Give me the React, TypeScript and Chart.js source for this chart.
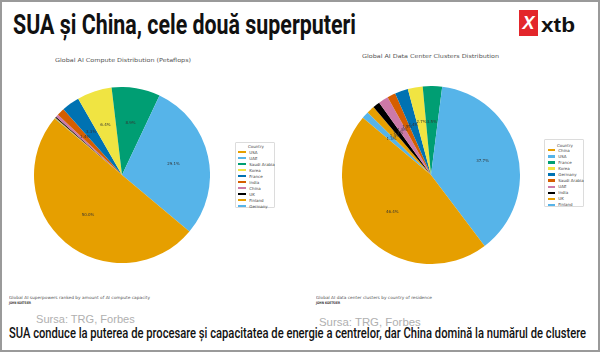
import React, { useEffect, useRef } from "react";
import { Chart, registerables } from "chart.js";
Chart.register(...registerables);

const palette = ["#E69F00", "#56B4E9", "#009E73", "#F0E442", "#0072B2", "#D55E00", "#CC79A7", "#000000", "#E69F00", "#56B4E9"];

const computeCountries = ["USA", "UAE", "Saudi Arabia", "Korea", "France", "India", "China", "UK", "Finland", "Germany"];
const computeShares = [50.0, 29.1, 8.9, 6.4, 3.3, 1.4, 0.5, 0.2, 0.1, 0.1];

const clusterCountries = ["China", "USA", "France", "Korea", "Germany", "Saudi Arabia", "UAE", "India", "UK", "Finland"];
const clusterShares = [46.4, 37.7, 3.5, 2.7, 2.4, 1.5, 1.8, 1.3, 1.4, 1.3];

const measureCtx = typeof document !== "undefined" ? document.createElement("canvas").getContext("2d") : null;

function Txt(props: { text: string; x: number; base: number; size: number; family: string; weight?: number | string; color: string; width?: number }) {
  const { text, x, base, size, family, weight = 400, color, width } = props;
  const font = `${weight} ${size}px ${family}`;
  let scale = 1;
  if (measureCtx && width) {
    measureCtx.font = font;
    const natural = measureCtx.measureText(text).width;
    scale = width / natural;
  }
  return (
    <div
      style={{
        position: "absolute",
        left: x,
        top: base - 0.845 * size,
        font,
        lineHeight: `${size}px`,
        color,
        whiteSpace: "nowrap",
        transform: `scaleX(${scale})`,
        transformOrigin: "0 0",
      }}
    >
      {text}
    </div>
  );
}

const pctPlugin = {
  id: "pctLabels",
  afterDatasetsDraw(chart: any) {
    const ctx = chart.ctx;
    const meta = chart.getDatasetMeta(0);
    const data = chart.data.datasets[0].data as number[];
    ctx.save();
    ctx.font = "4px 'DejaVu Sans'";
    ctx.fillStyle = "#333333";
    ctx.textAlign = "center";
    ctx.textBaseline = "middle";
    meta.data.forEach((arc: any, i: number) => {
      const v = data[i];
      if (v < 1) return;
      const p = arc.getProps(["x", "y", "startAngle", "endAngle", "outerRadius"], true);
      const mid = (p.startAngle + p.endAngle) / 2;
      const r = p.outerRadius * 0.6;
      ctx.fillText(v.toFixed(1) + "%", p.x + Math.cos(mid) * r, p.y + Math.sin(mid) * r);
    });
    ctx.restore();
  },
};

function Pie(props: { labels: string[]; values: number[]; left: number; top: number; size: number }) {
  const ref = useRef<HTMLCanvasElement>(null);
  useEffect(() => {
    if (!ref.current) return;
    const labels = [...props.labels].reverse();
    const values = [...props.values].reverse();
    const colors = [...palette].reverse();
    const chart = new Chart(ref.current, {
      type: "pie",
      data: {
        labels,
        datasets: [{ data: values, backgroundColor: colors, borderWidth: 0, hoverOffset: 0 }],
      },
      options: {
        animation: false,
        responsive: false,
        rotation: -50,
        layout: { padding: 0 },
        plugins: { legend: { display: false }, tooltip: { enabled: false } },
      },
      plugins: [pctPlugin],
    });
    return () => chart.destroy();
  }, []);
  return (
    <canvas
      ref={ref}
      width={props.size}
      height={props.size}
      style={{ position: "absolute", left: props.left, top: props.top, width: props.size, height: props.size }}
    />
  );
}

function Legend(props: { labels: string[]; left: number; top: number; width: number; height: number; step: number; patchX: number; textX: number; titleY: number; firstY: number }) {
  const { labels, left, top, width, height, step, patchX, textX, titleY, firstY } = props;
  return (
    <div
      style={{
        position: "absolute",
        left,
        top,
        width,
        height,
        boxSizing: "border-box",
        border: "0.6px solid #dcdcdc",
        borderRadius: 1,
        background: "#fff",
      }}
    >
      <div
        style={{
          position: "absolute",
          left: 0,
          width: width,
          top: titleY - top - 2.5,
          font: "4px 'DejaVu Sans'",
          lineHeight: "5px",
          textAlign: "center",
          color: "#444",
        }}
      >
        Country
      </div>
      {labels.map((l, i) => (
        <div key={l + i}>
          <div
            style={{
              position: "absolute",
              left: patchX - left,
              top: firstY - top + i * step - 1.2,
              width: 7.5,
              height: 2.4,
              background: palette[i],
            }}
          />
          <div
            style={{
              position: "absolute",
              left: textX - left,
              top: firstY - top + i * step - 2.5,
              font: "4px 'DejaVu Sans'",
              lineHeight: "5px",
              color: "#444",
              whiteSpace: "nowrap",
            }}
          >
            {l}
          </div>
        </div>
      ))}
    </div>
  );
}

export default function App() {
  return (
    <div
      style={{
        position: "fixed",
        left: 0,
        top: 0,
        width: 600,
        height: 352,
        boxSizing: "border-box",
        border: "2px solid #9a9a9a",
        background: "#ffffff",
        overflow: "hidden",
      }}
    >
      <div style={{ position: "absolute", left: -2, top: -2, width: 600, height: 352 }}>
        <Txt text="SUA și China, cele două superputeri" x={13} base={35} size={27} family="Roboto" weight={700} color="#111" width={343} />
        <div style={{ position: "absolute", left: 519, top: 10, width: 19, height: 26, background: "#E3262B" }}>
          <div style={{ position: "absolute", left: 0, top: 3, width: 19, textAlign: "center", font: "italic 900 18px 'Liberation Sans'", lineHeight: "20px", color: "#fff" }}>X</div>
        </div>
        <Txt text="xtb" x={541} base={32} size={20} family="'Liberation Sans'" weight={700} color="#111" width={34} />

        <Txt text="Global AI Compute Distribution (Petaflops)" x={55} base={63} size={5.5} family="'DejaVu Sans'" color="#555" width={136} />
        <Txt text="Global AI Data Center Clusters Distribution" x={362} base={59} size={5.5} family="'DejaVu Sans'" color="#555" width={137} />

        <Pie labels={computeCountries} values={computeShares} left={34} top={87} size={176} />
        <Pie labels={clusterCountries} values={clusterShares} left={342} top={86} size={178} />

        <Legend labels={computeCountries} left={235} top={142} width={40} height={66} step={6} patchX={237.3} textX={248.3} titleY={145} firstY={151.3} />
        <Legend labels={clusterCountries} left={544} top={139} width={40} height={68} step={6.07} patchX={546.7} textX={557.3} titleY={144} firstY={149.3} />

        <Txt text="Global AI superpowers ranked by amount of AI compute capacity" x={8.5} base={299.5} size={4.2} family="'DejaVu Sans'" color="#555" width={141} />
        <Txt text="JOHN KOETSIER" x={8.5} base={305} size={3.5} family="'DejaVu Sans'" weight={700} color="#333" width={22} />
        <Txt text="Global AI data center clusters by country of residence" x={316} base={299.5} size={4.2} family="'DejaVu Sans'" color="#555" width={116} />
        <Txt text="JOHN KOETSIER" x={316} base={305} size={3.5} family="'DejaVu Sans'" weight={700} color="#333" width={24} />

        <Txt text="Sursa: TRG, Forbes" x={36} base={322.5} size={10.5} family="'Liberation Sans'" color="#b0b0b0" width={99} />
        <Txt text="Sursa: TRG, Forbes" x={319} base={326} size={11} family="'Liberation Sans'" color="#b0b0b0" width={102} />

        <Txt
          text="SUA conduce la puterea de procesare și capacitatea de energie a centrelor, dar China domină la numărul de clustere"
          x={8.5}
          base={339}
          size={15}
          family="Roboto"
          weight={500}
          color="#111"
          width={577}
        />
      </div>
    </div>
  );
}
